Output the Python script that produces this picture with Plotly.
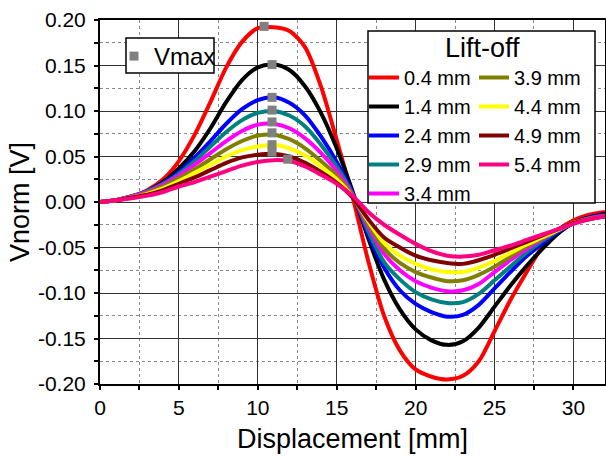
import plotly.graph_objects as go

# ---------------- data ----------------
displacement = list(range(0, 33))  # mm

lift_off_labels = ["0.4 mm", "1.4 mm", "2.4 mm", "2.9 mm", "3.4 mm",
                   "3.9 mm", "4.4 mm", "4.9 mm", "5.4 mm"]

v_04 = [0, 0.002, 0.006, 0.013, 0.025, 0.045, 0.074, 0.110, 0.148, 0.176, 0.191, 0.192, 0.188,
        0.170, 0.127, 0.068, 0.006, -0.065, -0.125, -0.163, -0.184, -0.192, -0.195, -0.191,
        -0.175, -0.142, -0.108, -0.078, -0.050, -0.031, -0.020, -0.014, -0.011]
v_14 = [0, 0.002, 0.006, 0.012, 0.022, 0.037, 0.056, 0.081, 0.110, 0.134, 0.148, 0.151, 0.145,
        0.127, 0.098, 0.059, 0.012, -0.040, -0.085, -0.118, -0.140, -0.152, -0.157, -0.153,
        -0.138, -0.115, -0.092, -0.071, -0.052, -0.035, -0.023, -0.017, -0.013]
v_24 = [0, 0.002, 0.006, 0.012, 0.021, 0.033, 0.049, 0.067, 0.086, 0.102, 0.112, 0.115, 0.109,
        0.095, 0.072, 0.044, 0.010, -0.036, -0.072, -0.097, -0.112, -0.121, -0.126, -0.124,
        -0.113, -0.095, -0.077, -0.060, -0.046, -0.033, -0.023, -0.017, -0.014]
v_29 = [0, 0.002, 0.006, 0.012, 0.020, 0.031, 0.045, 0.061, 0.077, 0.090, 0.098, 0.100, 0.095,
        0.083, 0.063, 0.039, 0.009, -0.032, -0.066, -0.085, -0.099, -0.107, -0.111, -0.110,
        -0.101, -0.086, -0.071, -0.056, -0.043, -0.032, -0.023, -0.018, -0.015]
v_34 = [0, 0.002, 0.006, 0.011, 0.019, 0.029, 0.041, 0.054, 0.067, 0.078, 0.085, 0.086, 0.081,
        0.070, 0.054, 0.034, 0.008, -0.027, -0.057, -0.075, -0.087, -0.094, -0.098, -0.097,
        -0.090, -0.077, -0.064, -0.052, -0.041, -0.031, -0.023, -0.018, -0.015]
v_39 = [0, 0.002, 0.005, 0.010, 0.017, 0.026, 0.036, 0.047, 0.058, 0.067, 0.073, 0.074, 0.069,
        0.059, 0.045, 0.029, 0.007, -0.024, -0.051, -0.067, -0.077, -0.083, -0.087, -0.086,
        -0.080, -0.071, -0.060, -0.049, -0.040, -0.031, -0.023, -0.018, -0.016]
v_44 = [0, 0.002, 0.005, 0.009, 0.015, 0.023, 0.032, 0.041, 0.050, 0.057, 0.061, 0.063, 0.059,
        0.051, 0.039, 0.025, 0.006, -0.021, -0.045, -0.059, -0.068, -0.074, -0.077, -0.077,
        -0.072, -0.065, -0.056, -0.047, -0.039, -0.031, -0.023, -0.019, -0.016]
v_49 = [0, 0.002, 0.005, 0.008, 0.013, 0.020, 0.027, 0.035, 0.043, 0.049, 0.052, 0.053, 0.050,
        0.043, 0.033, 0.021, 0.005, -0.019, -0.039, -0.050, -0.059, -0.064, -0.067, -0.068,
        -0.064, -0.058, -0.051, -0.044, -0.037, -0.030, -0.023, -0.019, -0.016]
v_54 = [0, 0.002, 0.004, 0.007, 0.011, 0.017, 0.022, 0.028, 0.034, 0.040, 0.044, 0.046, 0.045,
        0.039, 0.030, 0.020, 0.007, -0.011, -0.025, -0.036, -0.046, -0.054, -0.059, -0.060,
        -0.058, -0.053, -0.048, -0.042, -0.036, -0.030, -0.024, -0.019, -0.016]

vmax_x = [10.4, 10.9, 10.9, 10.9, 10.9, 10.9, 10.9, 10.9, 11.9]
vmax_y = [0.193, 0.151, 0.115, 0.101, 0.088, 0.076, 0.063, 0.055, 0.047]

x_tick_vals = [0, 5, 10, 15, 20, 25, 30]
y_tick_vals = [-0.20, -0.15, -0.10, -0.05, 0.00, 0.05, 0.10, 0.15, 0.20]
y_tick_labels = ["-0.20", "-0.15", "-0.10", "-0.05", "0.00", "0.05", "0.10", "0.15", "0.20"]

# ---------------- style ----------------
series = [v_04, v_14, v_24, v_29, v_34, v_39, v_44, v_49, v_54]
colors = ["#FF0000", "#000000", "#0000FF", "#008080", "#FF00FF",
          "#808000", "#FFFF00", "#800000", "#FF0080"]
FONT = "Liberation Sans, Arial, sans-serif"

fig = go.Figure()
for i, (ys, lab, col) in enumerate(zip(series, lift_off_labels, colors)):
    fig.add_trace(go.Scatter(
        x=displacement, y=ys, name=lab, mode="lines",
        line=dict(color=col, width=4, shape="spline", smoothing=0.8),
        legend="legend" if i < 5 else "legend2",
    ))

fig.add_trace(go.Scatter(
    x=vmax_x, y=vmax_y, name="Vmax", mode="markers",
    marker=dict(symbol="square", size=9, color="#808080"),
    legend="legend3",
))

# plot area in pixels: left 100, right 605, top 20, bottom 384
W, H = 606, 460
ml, mr, mt, mb = 100, 1, 20, 76
pw, ph = W - ml - mr, H - mt - mb


def px_x(p):
    return (p - ml) / pw


def px_y(p):
    return 1 - (p - mt) / ph


axis_common = dict(
    showline=True, linewidth=2, linecolor="black", mirror=True,
    ticks="outside", ticklen=4, tickwidth=1.5, tickcolor="black",
    showgrid=True, gridcolor="#333333", gridwidth=1, zeroline=False,
    tickfont=dict(family=FONT, size=21, color="black"),
)

fig.update_layout(
    width=W, height=H,
    margin=dict(l=ml, r=mr, t=mt, b=mb, autoexpand=False),
    paper_bgcolor="white", plot_bgcolor="white",
    font=dict(family=FONT, color="black"),
    xaxis=dict(
        range=[0, 32], tickmode="array", tickvals=x_tick_vals,
        minor=dict(tickmode="linear", tick0=0, dtick=2.5, ticks="outside", ticklen=4,
                   tickcolor="black", showgrid=True, gridcolor="#888888",
                   griddash="dot", gridwidth=1),
        title=dict(text="Displacement [mm]", font=dict(family=FONT, size=27), standoff=11),
        ticklabelstandoff=0,
        **axis_common,
    ),
    yaxis=dict(
        range=[-0.20, 0.20], tickmode="array", tickvals=y_tick_vals, ticktext=y_tick_labels,
        minor=dict(tickmode="linear", tick0=0, dtick=0.025, ticks="outside", ticklen=4,
                   tickcolor="black", showgrid=True, gridcolor="#888888",
                   griddash="dot", gridwidth=1),
        title=dict(text="Vnorm [V]", font=dict(family=FONT, size=27), standoff=0),
        ticklabelstandoff=4,
        **axis_common,
    ),
    legend=dict(
        x=px_x(364), y=px_y(58), xanchor="left", yanchor="top",
        bgcolor="rgba(0,0,0,0)", borderwidth=0,
        font=dict(family=FONT, size=20), tracegroupgap=0, itemwidth=30,
    ),
    legend2=dict(
        x=px_x(474), y=px_y(58), xanchor="left", yanchor="top",
        bgcolor="rgba(0,0,0,0)", borderwidth=0,
        font=dict(family=FONT, size=20), tracegroupgap=0, itemwidth=30,
    ),
    legend3=dict(
        x=px_x(114), y=px_y(34), xanchor="left", yanchor="top",
        bgcolor="rgba(0,0,0,0)", borderwidth=0,
        font=dict(family=FONT, size=24), itemwidth=30,
    ),
    shapes=[
        dict(type="rect", xref="paper", yref="paper",
             x0=px_x(368), x1=px_x(595), y0=px_y(203), y1=px_y(31),
             line=dict(color="black", width=1.5), fillcolor="white", layer="above"),
        dict(type="rect", xref="paper", yref="paper",
             x0=px_x(126), x1=px_x(214), y0=px_y(73), y1=px_y(38),
             line=dict(color="black", width=1.5), fillcolor="white", layer="above"),
    ],
    annotations=[
        dict(text="Lift-off", xref="paper", yref="paper",
             x=px_x(482), y=px_y(48), xanchor="center", yanchor="middle",
             showarrow=False, font=dict(family=FONT, size=27, color="black")),
    ],
)

fig.write_html("out.html", config={"displayModeBar": False},
               post_script="document.body.style.margin='0px';")
